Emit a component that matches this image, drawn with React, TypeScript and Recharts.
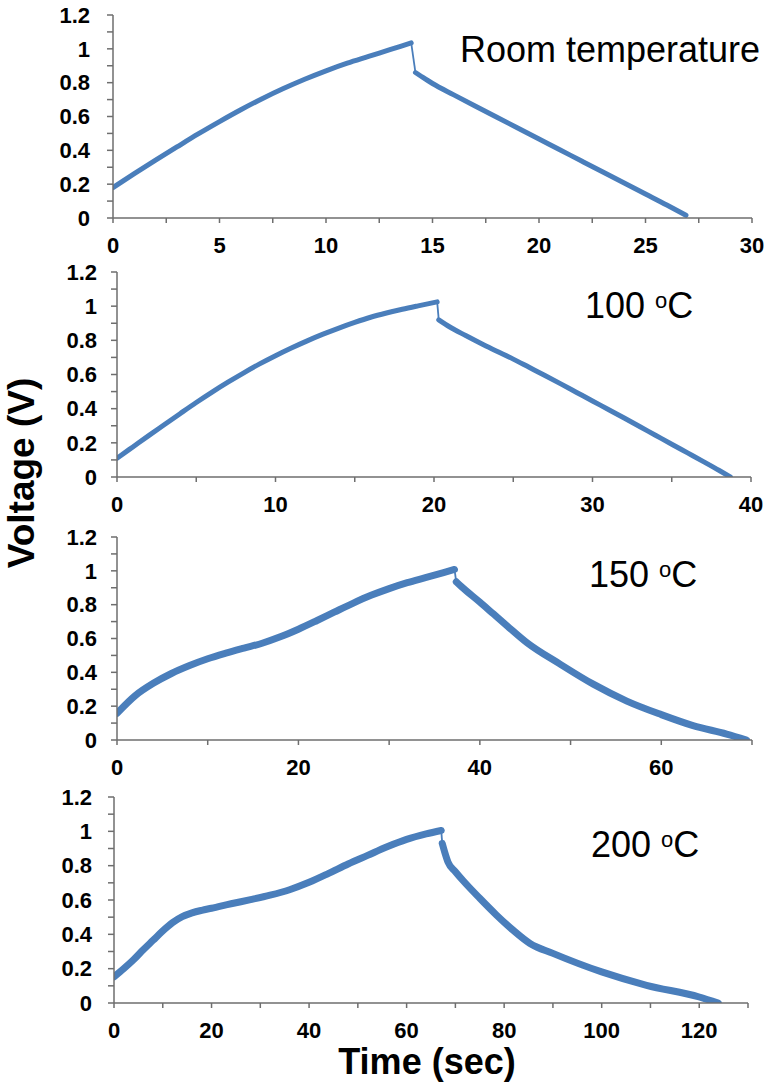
import React from 'react';
import { LineChart, Line, XAxis, YAxis } from 'recharts';

const FONT = '"Liberation Sans", Arial, Helvetica, sans-serif';
const BLUE = '#4a7ebb';
const AXIS = '#6e6e6e';

// Y ticks shared by all panels (minor every 0.1, labels every 0.2)
const yTicks = [0, 0.1, 0.2, 0.3, 0.4, 0.5, 0.6, 0.7, 0.8, 0.9, 1.0, 1.1, 1.2];

// Room temperature
const rtChargeT = [0, 1, 2, 3, 4, 5, 6, 7, 8, 9, 10, 11, 12, 13, 14];
const rtChargeV = [0.18, 0.262, 0.342, 0.42, 0.497, 0.57, 0.64, 0.705, 0.765, 0.82, 0.87, 0.915, 0.955, 0.995, 1.035];
const rtDischargeT = [14.2, 14.5, 15, 16, 17, 18, 19, 20, 21, 22, 23, 24, 25, 26, 26.9];
const rtDischargeV = [0.86, 0.835, 0.795, 0.728, 0.662, 0.597, 0.532, 0.467, 0.402, 0.337, 0.272, 0.207, 0.142, 0.077, 0.016];
const rtXTicks = [0, 2.5, 5, 7.5, 10, 12.5, 15, 17.5, 20, 22.5, 25, 27.5, 30];

// 100 C
const c100ChargeT = [0, 1, 2, 3, 4, 5, 6, 7, 8, 9, 10, 11, 12, 13, 14, 15, 16, 17, 18, 19, 20.2];
const c100ChargeV = [0.11, 0.176, 0.242, 0.307, 0.372, 0.436, 0.497, 0.555, 0.61, 0.662, 0.71, 0.755, 0.797, 0.836, 0.872, 0.905, 0.935, 0.96, 0.982, 1.002, 1.025];
const c100DischargeT = [20.3, 21, 22, 23, 24, 25, 26, 27, 28, 29, 30, 31, 32, 33, 34, 35, 36, 37, 38, 38.7];
const c100DischargeV = [0.92, 0.878, 0.828, 0.78, 0.735, 0.69, 0.642, 0.594, 0.545, 0.495, 0.445, 0.395, 0.345, 0.294, 0.243, 0.192, 0.141, 0.09, 0.038, 0.0];
const c100XTicks = [0, 5, 10, 15, 20, 25, 30, 35, 40];

// 150 C
const c150ChargeT = [0, 2, 4, 6, 8, 10, 12, 14, 16, 18, 20, 22, 24, 26, 28, 30, 32, 34, 36, 37.2];
const c150ChargeV = [0.158, 0.262, 0.335, 0.393, 0.44, 0.48, 0.513, 0.543, 0.572, 0.61, 0.655, 0.705, 0.757, 0.808, 0.855, 0.895, 0.93, 0.96, 0.99, 1.008];
const c150DischargeT = [37.4, 38, 40, 41.5, 43, 45.2, 48.8, 52.5, 56.2, 60, 63.5, 67.2, 69.4];
const c150DischargeV = [0.935, 0.905, 0.815, 0.745, 0.675, 0.575, 0.45, 0.33, 0.23, 0.15, 0.085, 0.035, 0.0];
const c150XTicks = [0, 10, 20, 30, 40, 50, 60, 70];

// 200 C
const c200ChargeT = [0, 2, 4, 6, 8, 10, 12, 14, 16, 18, 20, 24, 28, 32, 36, 40, 44, 48, 52, 56, 60, 64, 67.1];
const c200ChargeV = [0.152, 0.2, 0.252, 0.31, 0.365, 0.42, 0.468, 0.503, 0.525, 0.54, 0.552, 0.578, 0.602, 0.628, 0.66, 0.703, 0.755, 0.81, 0.86, 0.91, 0.953, 0.985, 1.005];
const c200DischargeT = [67.3, 67.8, 68.5, 70, 71.6, 75, 78.4, 81.8, 85.3, 90, 100, 109.2, 120, 123.9];
const c200DischargeV = [0.93, 0.88, 0.82, 0.765, 0.712, 0.61, 0.513, 0.425, 0.347, 0.289, 0.181, 0.103, 0.035, 0.0];
const c200XTicks = [0, 10, 20, 30, 40, 50, 60, 70, 80, 90, 100, 110, 120, 130];

const zip = (t: number[], v: number[]) => t.map((x, i) => ({ t: x, v: v[i] }));

type PanelProps = {
  top: number;
  height: number;
  margin: { top: number; right: number; left: number; bottom: number };
  xTicks: number[];
  labelStep: number;
  yTickMargin: number;
  chargeT: number[];
  chargeV: number[];
  dischargeT: number[];
  dischargeV: number[];
  strokeWidth: number;
};

const Panel = (p: PanelProps) => {
  const charge = zip(p.chargeT, p.chargeV);
  const discharge = zip(p.dischargeT, p.dischargeV);
  const connector = [charge[charge.length - 1], discharge[0]];
  const xMax = p.xTicks[p.xTicks.length - 1];

  const XTick = (props: any) => {
    const { x, y, payload } = props;
    const v = payload.value;
    if (Math.abs(v / p.labelStep - Math.round(v / p.labelStep)) > 1e-6) return <g />;
    return (
      <text x={x} y={y} dy="0.71em" textAnchor="middle" fontFamily={FONT} fontSize={22} fontWeight="bold" fill="#000">
        {String(v)}
      </text>
    );
  };
  const YTick = (props: any) => {
    const { x, y, payload } = props;
    const v = payload.value;
    if (Math.round(v * 10) % 2 !== 0) return <g />;
    return (
      <text x={x} y={y} dy="0.355em" textAnchor="end" fontFamily={FONT} fontSize={22} fontWeight="bold" fill="#000">
        {String(Number(v.toFixed(1)))}
      </text>
    );
  };

  return (
    <div style={{ position: 'absolute', left: 0, top: p.top }}>
      <LineChart width={777} height={p.height} margin={p.margin}>
        <XAxis
          type="number"
          dataKey="t"
          domain={[0, xMax]}
          ticks={p.xTicks}
          allowDataOverflow
          height={30}
          tickSize={5}
          tickMargin={14}
          stroke={AXIS}
          strokeWidth={1.5}
          tick={XTick}
          interval={0}
        />
        <YAxis
          type="number"
          dataKey="v"
          domain={[0, 1.2]}
          ticks={yTicks}
          allowDataOverflow
          width={60}
          tickSize={6}
          tickMargin={p.yTickMargin}
          stroke={AXIS}
          strokeWidth={1.5}
          tick={YTick}
          interval={0}
        />
        <Line data={connector} dataKey="v" type="linear" stroke={BLUE} strokeWidth={1.8} dot={false} isAnimationActive={false} />
        <Line data={charge} dataKey="v" type="monotone" stroke={BLUE} strokeWidth={p.strokeWidth} dot={false} isAnimationActive={false} strokeLinecap="round" />
        <Line data={discharge} dataKey="v" type="monotone" stroke={BLUE} strokeWidth={p.strokeWidth} dot={false} isAnimationActive={false} strokeLinecap="round" />
      </LineChart>
    </div>
  );
};

const Temp = ({ x, y, num }: { x: number; y: number; num: string }) => (
  <text x={x} y={y} fontFamily={FONT} fontSize={36} fill="#000">
    {num + ' '}
    <tspan fontSize={22} dy={-10}>o</tspan>
    <tspan fontSize={36} dy={10}>C</tspan>
  </text>
);

export default function App() {
  return (
    <div style={{ position: 'absolute', left: 0, top: 0, width: 777, height: 1086, background: '#fff', overflow: 'hidden' }}>
      <Panel top={0} height={264} margin={{ top: 15, right: 25, left: 53, bottom: 16 }} xTicks={rtXTicks} labelStep={5} yTickMargin={17}
        chargeT={rtChargeT} chargeV={rtChargeV} dischargeT={rtDischargeT} dischargeV={rtDischargeV} strokeWidth={5} />
      <Panel top={255} height={272} margin={{ top: 17, right: 26, left: 57, bottom: 20 }} xTicks={c100XTicks} labelStep={10} yTickMargin={14}
        chargeT={c100ChargeT} chargeV={c100ChargeV} dischargeT={c100DischargeT} dischargeV={c100DischargeV} strokeWidth={5} />
      <Panel top={520} height={272} margin={{ top: 17, right: 25, left: 57, bottom: 22 }} xTicks={c150XTicks} labelStep={20} yTickMargin={14}
        chargeT={c150ChargeT} chargeV={c150ChargeV} dischargeT={c150DischargeT} dischargeV={c150DischargeV} strokeWidth={7} />
      <Panel top={780} height={270} margin={{ top: 17, right: 29, left: 54, bottom: 17 }} xTicks={c200XTicks} labelStep={20} yTickMargin={16}
        chargeT={c200ChargeT} chargeV={c200ChargeV} dischargeT={c200DischargeT} dischargeV={c200DischargeV} strokeWidth={7} />
      <svg width={777} height={1086} style={{ position: 'absolute', left: 0, top: 0, pointerEvents: 'none' }}>
        <text x={460} y={62} fontFamily={FONT} fontSize={36} fill="#000">Room temperature</text>
        <Temp x={585} y={318} num="100" />
        <Temp x={589} y={587} num="150" />
        <Temp x={591} y={857} num="200" />
        <text x={34} y={473} transform="rotate(-90, 34, 473)" textAnchor="middle" fontFamily={FONT} fontSize={37} fontWeight="bold" fill="#000">Voltage (V)</text>
        <text x={427} y={1074} textAnchor="middle" fontFamily={FONT} fontSize={36} fontWeight="bold" fill="#000">Time (sec)</text>
      </svg>
    </div>
  );
}
